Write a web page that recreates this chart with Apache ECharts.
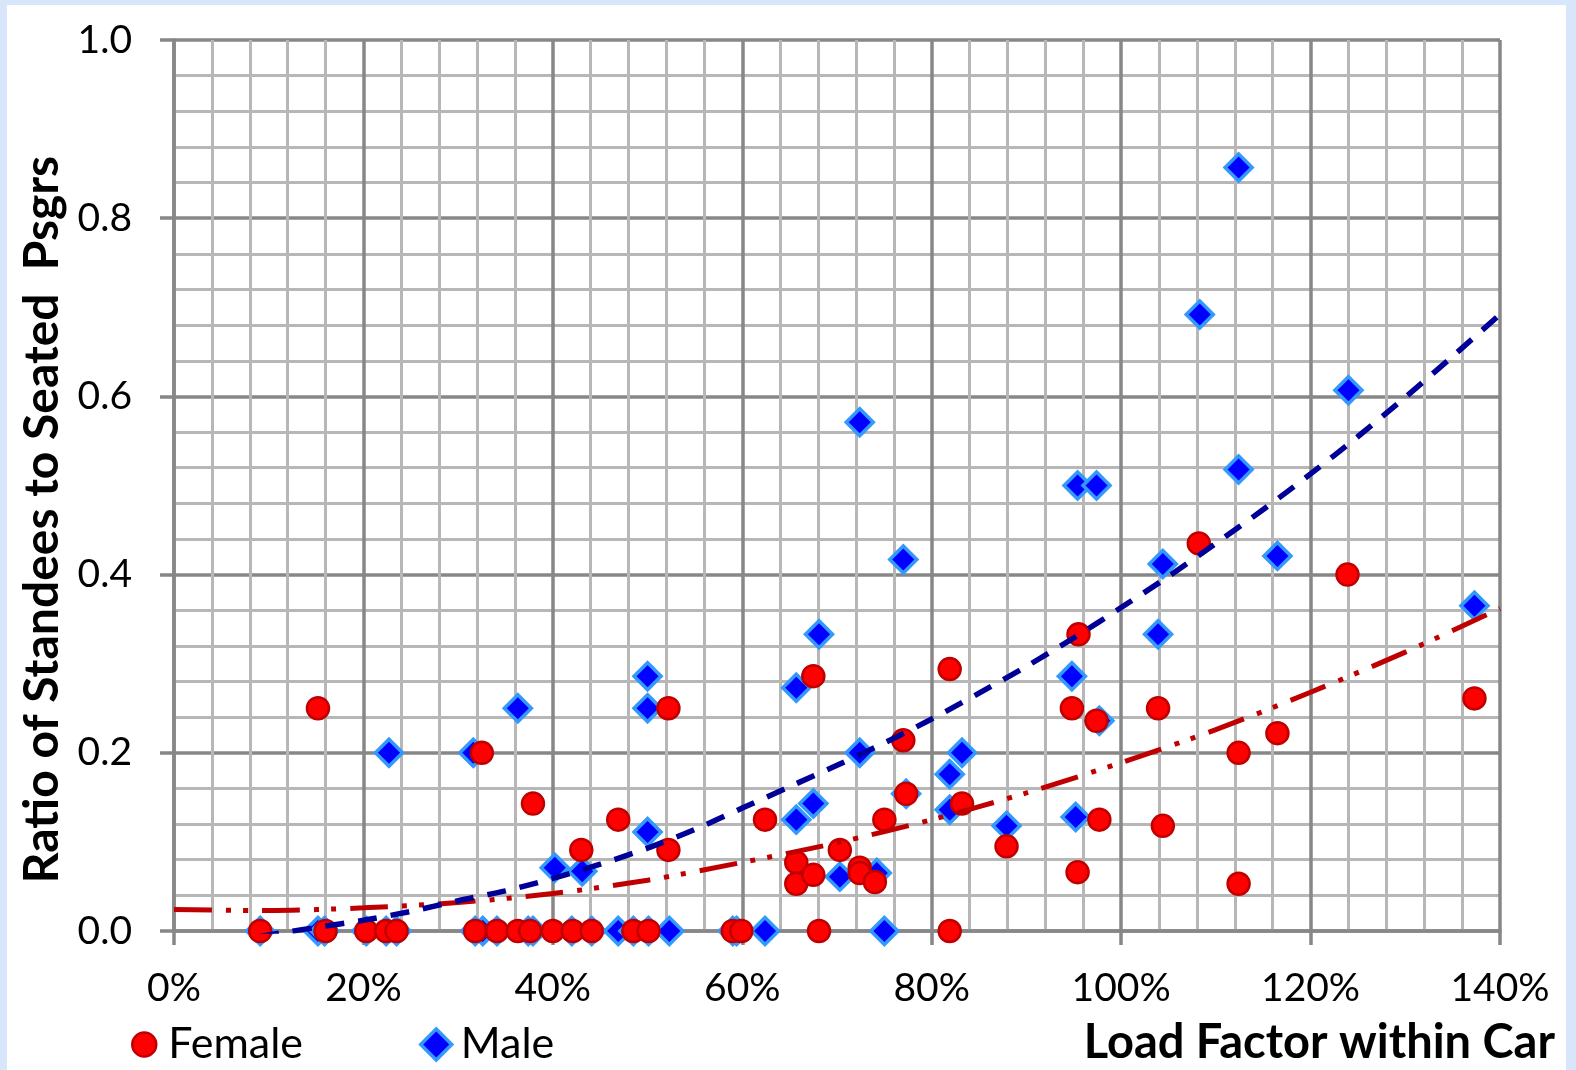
<!DOCTYPE html>
<html>
<head>
<meta charset="utf-8">
<script src="https://cdn.jsdelivr.net/npm/echarts@6/dist/echarts.min.js"></script>
<style>
  html, body { margin: 0; padding: 0; background: #D7E6FB; }
  #chart { position: absolute; left: 7px; top: 5px; width: 1559px; height: 1065px; background: #ffffff; }
</style>
</head>
<body>
<div id="chart"></div>
<script>
// ---- Data ----
const xTicks = [0, 20, 40, 60, 80, 100, 120, 140];           // Load factor, %
const yTicks = [0, 0.2, 0.4, 0.6, 0.8, 1.0];

const femaleLoad = [9.1, 16.0, 20.3, 22.4, 23.5, 31.8, 34.1, 36.3, 37.6, 40.0, 42.1, 44.1, 48.5, 50.1, 59.0, 59.9, 68.1, 81.9,
  15.2, 32.5, 37.9, 46.9, 43.0, 52.2, 52.2, 67.5, 81.9, 95.5, 94.8, 77.0, 77.3, 62.4, 75.0, 83.2, 87.9, 65.7, 65.7, 67.5,
  70.3, 72.4, 72.4, 74.0, 95.4, 97.4, 97.7, 103.9, 104.4, 108.2, 112.4, 112.4, 116.5, 123.9, 137.3];
const femaleRatio = [0, 0, 0, 0, 0, 0, 0, 0, 0, 0, 0, 0, 0, 0, 0, 0, 0, 0,
  0.25, 0.2, 0.143, 0.125, 0.091, 0.25, 0.091, 0.286, 0.294, 0.333, 0.25, 0.214, 0.154, 0.125, 0.125, 0.143, 0.095, 0.077, 0.053, 0.063,
  0.091, 0.071, 0.065, 0.055, 0.066, 0.236, 0.125, 0.25, 0.118, 0.435, 0.2, 0.053, 0.222, 0.4, 0.261];

const maleLoad = [9.1, 15.2, 15.9, 20.3, 22.4, 23.5, 31.8, 32.6, 34.1, 37.4, 37.9, 42.0, 44.1, 46.9, 48.5, 50.1, 52.3, 59.0, 59.4, 62.4, 75.0,
  22.7, 31.6, 36.3, 50.0, 50.0, 50.0, 40.2, 43.1, 68.1, 65.7, 72.4, 83.2, 81.9, 77.3, 67.5, 65.7, 81.9, 87.9, 70.3, 74.2,
  95.2, 94.8, 72.4, 95.4, 97.4, 77.0, 112.4, 108.3, 124.0, 112.4, 104.4, 116.5, 137.3, 103.9, 97.7];
const maleRatio = [0, 0, 0, 0, 0, 0, 0, 0, 0, 0, 0, 0, 0, 0, 0, 0, 0, 0, 0, 0, 0,
  0.2, 0.2, 0.25, 0.286, 0.25, 0.111, 0.071, 0.067, 0.333, 0.273, 0.2, 0.2, 0.176, 0.154, 0.143, 0.125, 0.136, 0.118, 0.061, 0.065,
  0.128, 0.286, 0.571, 0.5, 0.5, 0.417, 0.857, 0.692, 0.607, 0.518, 0.412, 0.421, 0.365, 0.333, 0.236];

// Trend lines, values
const femaleTrendLoad = [0, 10, 20, 30, 40, 50, 60, 70, 80, 90, 100, 110, 120, 130, 140];
const femaleTrendRatio = [0.024, 0.023, 0.026, 0.032, 0.042, 0.057, 0.077, 0.099, 0.125, 0.155, 0.189, 0.226, 0.268, 0.313, 0.362];
const maleTrendLoad = [9.1, 12, 15, 20, 25, 30, 35, 40, 45, 50, 55, 60, 65, 70, 75, 80, 85, 90, 95, 100, 105, 110, 115, 120, 125, 130, 135, 140];
const maleTrendRatio = [-0.006, -0.001, 0.004, 0.012, 0.022, 0.034, 0.045, 0.059, 0.075, 0.093, 0.114, 0.138, 0.162, 0.186, 0.211, 0.238,
  0.267, 0.297, 0.329, 0.363, 0.398, 0.435, 0.473, 0.513, 0.555, 0.599, 0.645, 0.692];

const zip = (a, b) => a.map((v, i) => [v, b[i]]);

const FONT = 'Lato';
const MAJOR = '#878787';
const MINOR = '#B7B7B7';

const chart = echarts.init(document.getElementById('chart'), null, { renderer: 'canvas' });
chart.setOption({
  animation: false,
  backgroundColor: '#ffffff',
  textStyle: { fontFamily: FONT, color: '#000' },
  grid: { left: 167, top: 35, right: 66, bottom: 139, containLabel: false },
  legend: [
    {
      data: ['Female'], left: 124, top: 1018, padding: 0, itemWidth: 24, itemHeight: 24,
      textStyle: { fontSize: 43, fontFamily: FONT, color: '#000', padding: [0, 0, 0, 7] },
      itemStyle: { borderWidth: 2.5 }
    },
    {
      data: ['Male'], left: 412, top: 1018, padding: 0, itemWidth: 31, itemHeight: 31,
      textStyle: { fontSize: 43, fontFamily: FONT, color: '#000', padding: [0, 0, 0, 4] },
      itemStyle: { borderWidth: 3.5 }
    }
  ],
  xAxis: {
    type: 'value', min: xTicks[0], max: xTicks[xTicks.length - 1], interval: 20,
    name: 'Load Factor within Car', nameLocation: 'end', nameGap: 55,
    nameTextStyle: { fontSize: 47, fontWeight: 'bold', fontFamily: FONT, color: '#000', align: 'right', verticalAlign: 'top', padding: [88, 0, 0, 0] },
    axisLine: { show: true, onZero: false, lineStyle: { color: MAJOR, width: 3.5 } },
    axisTick: { show: true, inside: false, length: 14, lineStyle: { color: MAJOR, width: 3.5 } },
    axisLabel: { fontSize: 39, fontFamily: FONT, color: '#000', margin: 38, formatter: v => v + '%' },
    splitLine: { show: true, lineStyle: { color: MAJOR, width: 3.5 } },
    minorTick: { show: false, splitNumber: 5 },
    minorSplitLine: { show: true, lineStyle: { color: MINOR, width: 3 } }
  },
  yAxis: {
    type: 'value', min: yTicks[0], max: yTicks[yTicks.length - 1], interval: 0.2,
    name: 'Ratio of Standees to Seated  Psgrs', nameLocation: 'middle', nameGap: 97,
    nameTextStyle: { fontSize: 48, fontWeight: 'bold', fontFamily: FONT, color: '#000', padding: [0, 68, 0, 0] },
    axisLine: { show: true, onZero: false, lineStyle: { color: MAJOR, width: 3.5 } },
    axisTick: { show: true, inside: false, length: 14, lineStyle: { color: MAJOR, width: 3.5 } },
    axisLabel: { fontSize: 39, fontFamily: FONT, color: '#000', margin: 42, formatter: v => v.toFixed(1) },
    splitLine: { show: true, lineStyle: { color: MAJOR, width: 3.5 } },
    minorTick: { show: false, splitNumber: 5 },
    minorSplitLine: { show: true, lineStyle: { color: MINOR, width: 3 } }
  },
  series: [
    {
      name: 'Male', type: 'scatter', z: 2,
      symbol: 'diamond', symbolSize: 27,
      itemStyle: { color: '#0000FF', borderColor: '#3399FF', borderWidth: 3.5, opacity: 1 },
      data: zip(maleLoad, maleRatio)
    },
    {
      name: 'Female', type: 'scatter', z: 3,
      symbol: 'circle', symbolSize: 22,
      itemStyle: { color: '#FF0000', borderColor: '#C00000', borderWidth: 2.5, opacity: 1 },
      data: zip(femaleLoad, femaleRatio)
    },
    {
      name: 'Female trend', type: 'line', z: 4, smooth: 0.3, showSymbol: false, symbol: 'none', clip: true,
      lineStyle: { color: '#C00000', width: 5, cap: 'butt', type: [38, 14, 5, 12, 5, 14] },
      data: zip(femaleTrendLoad, femaleTrendRatio), silent: true
    },
    {
      name: 'Male trend', type: 'line', z: 5, smooth: 0.3, showSymbol: false, symbol: 'none', clip: true,
      lineStyle: { color: '#000099', width: 5.5, cap: 'butt', type: [19, 14] },
      data: zip(maleTrendLoad, maleTrendRatio), silent: true
    }
  ]
});
</script>
</body>
</html>
